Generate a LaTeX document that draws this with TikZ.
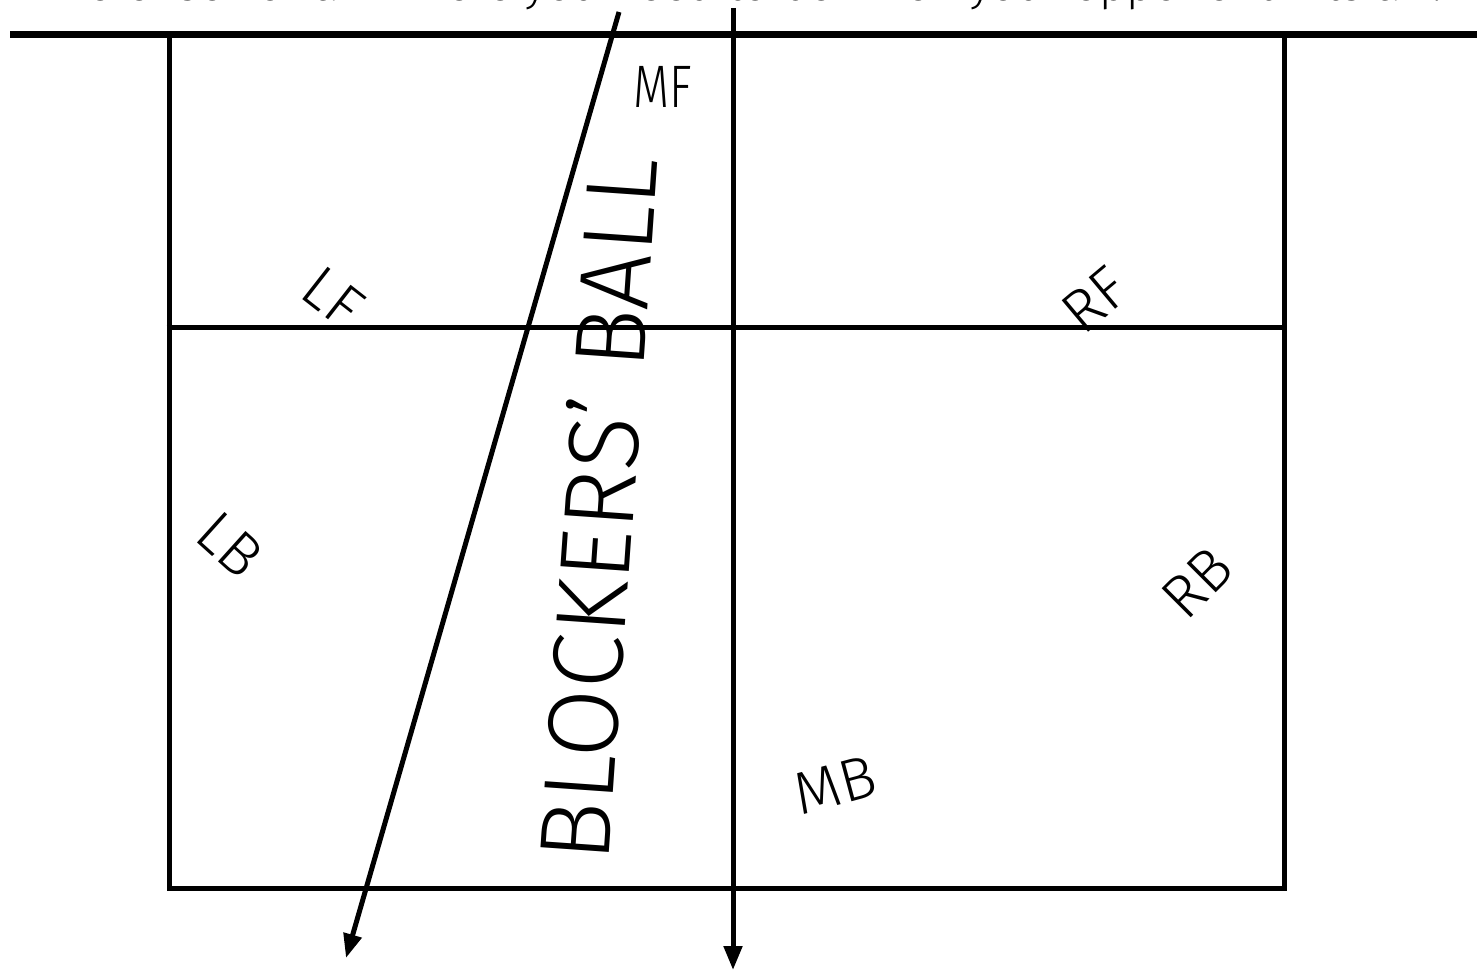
\documentclass[tikz,border=0pt]{standalone}
\usepackage{fontspec}
\setmainfont{Fira Sans}[UprightFont=* Light]
\usetikzlibrary{arrows.meta}
\tikzset{
  court/.style={line width=5pt},
  netline/.style={line width=7pt},
  mover/.style={line width=5pt,-{Triangle[length=24pt,width=18pt]}},
  poslabel/.style={font=\fontsize{60}{60}\selectfont,inner sep=0pt},
}
\begin{document}
\begin{tikzpicture}[x=1pt,y=-1pt]
\useasboundingbox (0,0) rectangle (1477,973);
\clip (0,0) rectangle (1477,973);
% title (cut off at top)
\node[anchor=base,inner sep=0pt,font=\fontsize{46}{46}\selectfont] (title) at (750,1) {Defense For a -- where you need to be when your opponent hits a 1.};
% court
\coordinate (nl) at (10,35);
\coordinate (nr) at (1477,35);
\draw[netline] (nl) -- (nr);
\node[draw,court,minimum width=1115pt,minimum height=853pt,inner sep=0pt] (box) at (726.5,461.5) {};
\draw[court] (box.west |- 0,328) coordinate (ml) -- (box.east |- 0,328) coordinate (mr);
% arrows
\coordinate (vt) at (733,8);
\coordinate (vb) at (733,970);
\draw[mover] (vt) -- (vb);
\coordinate (dt) at (619,12);
\coordinate (db) at (346,958);
\draw[mover] (dt) -- (db);
% positions
\node[poslabel,xscale=0.78] (mf) at (663,87) {MF};
\node[poslabel,rotate=-38] (lf) at (333,297) {LF};
\node[poslabel,rotate=40] (rf) at (1095,300) {RF};
\node[poslabel,rotate=-42] (lb) at (230,545) {LB};
\node[poslabel,rotate=45] (rb) at (1197,583) {RB};
\node[poslabel,rotate=15] (mb) at (835,785) {MB};
\node[inner sep=0pt,rotate=86,xscale=1.0,font=\fontsize{100}{100}\selectfont] (bb) at (597,509) {BLOCKERS' BALL};
\end{tikzpicture}
\end{document}
